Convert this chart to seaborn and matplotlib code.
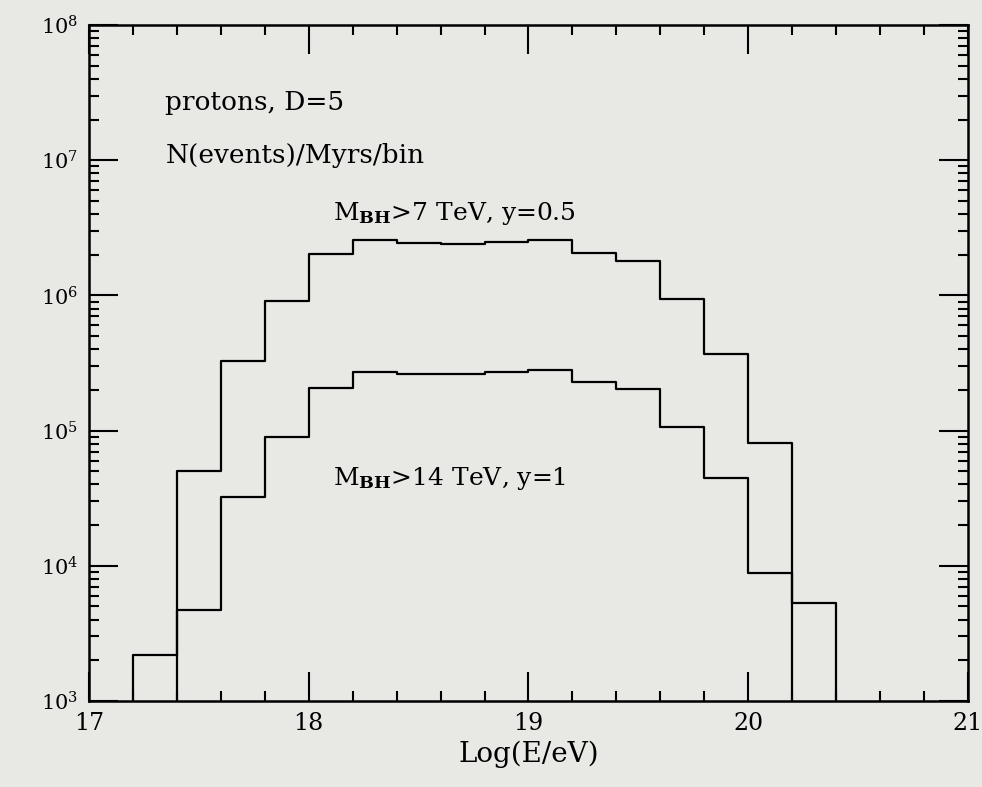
import numpy as np
import pandas as pd
import matplotlib
matplotlib.use("Agg")
import matplotlib.pyplot as plt
import matplotlib.ticker as mticker
import seaborn as sns

# bin centres of Log(E/eV), 0.2 wide bins from 17.0 to 21.0
bin_centers = [17.1, 17.3, 17.5, 17.7, 17.9, 18.1, 18.3, 18.5, 18.7, 18.9,
               19.1, 19.3, 19.5, 19.7, 19.9, 20.1, 20.3, 20.5, 20.7, 20.9]

# N(events)/Myrs/bin, one value per bin
m7_y05 = [0, 2.2e3, 5.0e4, 3.3e5, 9.1e5, 2.02e6, 2.57e6, 2.44e6, 2.4e6, 2.48e6,
          2.57e6, 2.06e6, 1.8e6, 9.4e5, 3.7e5, 8.1e4, 5.3e3, 0, 0, 0]
m14_y1 = [0, 0, 4.7e3, 3.2e4, 9.0e4, 2.07e5, 2.71e5, 2.62e5, 2.62e5, 2.71e5,
          2.8e5, 2.29e5, 2.03e5, 1.06e5, 4.46e4, 8.85e3, 0, 0, 0, 0]

x_ticks = [17, 18, 19, 20, 21]

bg = "#e8e8e5"
sns.set_style("ticks")
plt.rcParams["font.family"] = ["DejaVu Serif"]
plt.rcParams["mathtext.fontset"] = "dejavuserif"
plt.rcParams["text.color"] = "black"
plt.rcParams["axes.labelcolor"] = "black"
plt.rcParams["xtick.color"] = "black"
plt.rcParams["ytick.color"] = "black"

fig = plt.figure(figsize=(9.82, 7.87), dpi=100, facecolor=bg)
ax = fig.add_axes([0.0906, 0.1093, 0.8951, 0.8589], facecolor=bg)

for vals in [m7_y05, m14_y1]:
    df = pd.DataFrame({"logE": bin_centers, "n": vals})
    sns.histplot(data=df, x="logE", weights="n", binwidth=0.2, binrange=(17, 21),
                 element="step", fill=False, color="black", linewidth=1.6, ax=ax)

ax.set_yscale("log")
ax.set_xlim(17, 21)
ax.set_ylim(1e3, 1e8)

ax.set_xticks(x_ticks)
ax.set_xticklabels([str(t) for t in x_ticks])
ax.xaxis.set_minor_locator(mticker.MultipleLocator(0.2))
ax.yaxis.set_major_locator(mticker.LogLocator(base=10, numticks=10))
ax.yaxis.set_minor_locator(mticker.LogLocator(base=10, subs=np.arange(2, 10), numticks=10))
ax.yaxis.set_major_formatter(mticker.LogFormatterMathtext())
ax.yaxis.set_minor_formatter(mticker.NullFormatter())

ax.tick_params(which="both", direction="in", top=True, right=True, width=1.5, color="black")
ax.tick_params(which="major", length=21)
ax.tick_params(which="minor", length=7)
ax.tick_params(axis="x", which="major", labelsize=17, pad=8)
ax.tick_params(axis="y", which="major", labelsize=15, pad=8)
for s in ax.spines.values():
    s.set_linewidth(1.8)
    s.set_color("black")

ax.set_xlabel("Log(E/eV)", fontsize=20, labelpad=4)
ax.set_ylabel("")

ax.text(0.087, 0.874, "protons, D=5", transform=ax.transAxes, fontsize=19, va="baseline")
ax.text(0.087, 0.796, "N(events)/Myrs/bin", transform=ax.transAxes, fontsize=19, va="baseline")
ax.text(0.278, 0.712, r"M$_{\mathbf{BH}}$>7 TeV, y=0.5", transform=ax.transAxes,
        fontsize=18, va="baseline")
ax.text(0.278, 0.3195, r"M$_{\mathbf{BH}}$>14 TeV, y=1", transform=ax.transAxes,
        fontsize=18, va="baseline")

fig.savefig("out.png", dpi=100, facecolor=bg)
